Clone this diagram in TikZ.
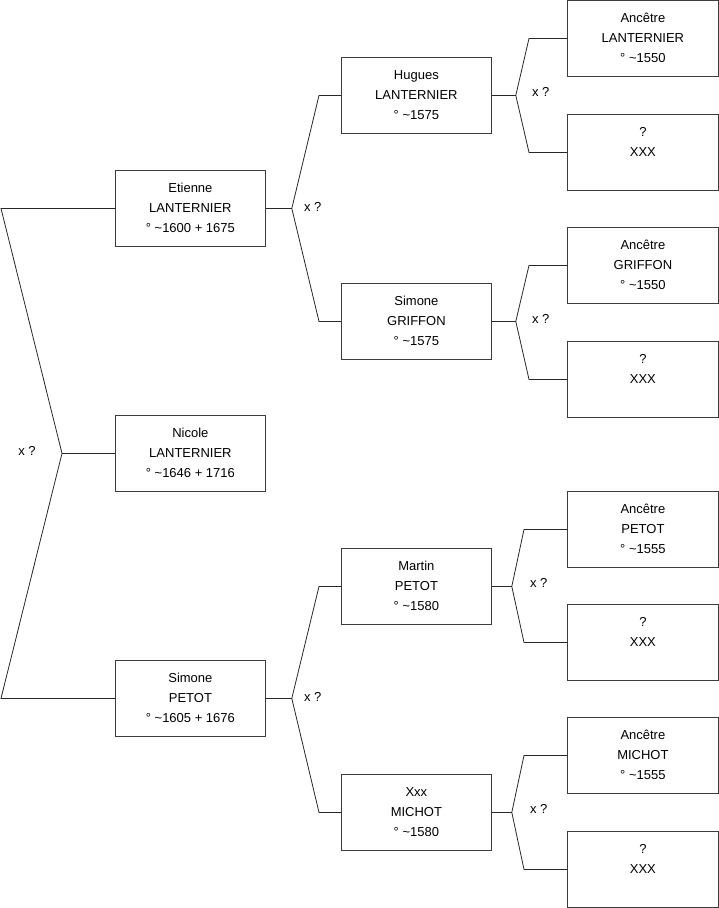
\documentclass[tikz,border=0pt]{standalone}
\usepackage{fontspec}
\setmainfont{Liberation Sans}
\usepackage{tikz}
\usetikzlibrary{positioning}
\usepackage{xcolor}
\definecolor{boxgray}{RGB}{60,60,60}
\definecolor{linegray}{RGB}{40,40,40}
\newcommand{\pers}[2][150pt]{\parbox[c][76pt][t]{#1}{\centering\rule{0pt}{22.5pt}#2}}
\tikzset{
    fiche/.style={draw=boxgray, line width=0.8pt, inner sep=0pt,
                  minimum width=#1, minimum height=76, anchor=north west,
                  font=\fontsize{13}{19.7}\selectfont},
    fiche/.default=150,
    lien/.style={draw=linegray, line width=0.8pt},
    xlbl/.style={font=\fontsize{13}{15}\selectfont, inner sep=0pt},
}
\begin{document}
\begin{tikzpicture}[x=1pt, y=-1pt]
    \useasboundingbox (0,0) rectangle (719,908);
    % generation 2
    \node[fiche] (etienne) at (115,170) {\pers{Etienne\\LANTERNIER\\° \textasciitilde1600 + 1675}};
    \node[fiche] (nicole) at (115,415) {\pers{Nicole\\LANTERNIER\\° \textasciitilde1646 + 1716}};
    \node[fiche] (simonep) at (115,660) {\pers{Simone\\PETOT\\° \textasciitilde1605 + 1676}};
    % generation 3
    \node[fiche] (hugues) at (341,57) {\pers{Hugues\\LANTERNIER\\° \textasciitilde1575}};
    \node[fiche] (simoneg) at (341,283) {\pers{Simone\\GRIFFON\\° \textasciitilde1575}};
    \node[fiche] (martin) at (341,548) {\pers{Martin\\PETOT\\° \textasciitilde1580}};
    \node[fiche] (xxx) at (341,774) {\pers{Xxx\\MICHOT\\° \textasciitilde1580}};
    % generation 4
    \node[fiche=151] (a1) at (567,0) {\pers[151pt]{Ancêtre\\LANTERNIER\\° \textasciitilde1550}};
    \node[fiche=151] (a2) at (567,114) {\pers[151pt]{?\\XXX}};
    \node[fiche=151] (a3) at (567,227) {\pers[151pt]{Ancêtre\\GRIFFON\\° \textasciitilde1550}};
    \node[fiche=151] (a4) at (567,341) {\pers[151pt]{?\\XXX}};
    \node[fiche=151] (a5) at (567,491) {\pers[151pt]{Ancêtre\\PETOT\\° \textasciitilde1555}};
    \node[fiche=151] (a6) at (567,604) {\pers[151pt]{?\\XXX}};
    \node[fiche=151] (a7) at (567,717) {\pers[151pt]{Ancêtre\\MICHOT\\° \textasciitilde1555}};
    \node[fiche=151] (a8) at (567,831) {\pers[151pt]{?\\XXX}};

    % couple of Nicole
    \draw[lien] (nicole.west) -- ++(-53,0) coordinate (m0);
    \draw[lien] (m0) -- ([xshift=-114pt]etienne.west) -- (etienne.west);
    \draw[lien] (m0) -- ([xshift=-114pt]simonep.west) -- (simonep.west);
    \node[xlbl] (x0) at ([xshift=-35pt,yshift=2pt]m0) {x ?};

    % couples of generation 3
    \draw[lien] (etienne.east) -- ++(26,0) coordinate (m1);
    \draw[lien] (m1) -- ([xshift=-22pt]hugues.west) -- (hugues.west);
    \draw[lien] (m1) -- ([xshift=-22pt]simoneg.west) -- (simoneg.west);
    \node[xlbl] (x1) at ([xshift=21pt,yshift=1pt]m1) {x ?};

    \draw[lien] (simonep.east) -- ++(26,0) coordinate (m2);
    \draw[lien] (m2) -- ([xshift=-22pt]martin.west) -- (martin.west);
    \draw[lien] (m2) -- ([xshift=-22pt]xxx.west) -- (xxx.west);
    \node[xlbl] (x2) at ([xshift=21pt,yshift=1pt]m2) {x ?};

    % couples of generation 4
    \draw[lien] (hugues.east) -- ++(24,0) coordinate (m3);
    \draw[lien] (m3) -- ([xshift=-38pt]a1.west) -- (a1.west);
    \draw[lien] (m3) -- ([xshift=-38pt]a2.west) -- (a2.west);
    \node[xlbl] (x3) at ([xshift=25pt,yshift=3pt]m3) {x ?};

    \draw[lien] (simoneg.east) -- ++(24,0) coordinate (m4);
    \draw[lien] (m4) -- ([xshift=-38pt]a3.west) -- (a3.west);
    \draw[lien] (m4) -- ([xshift=-38pt]a4.west) -- (a4.west);
    \node[xlbl] (x4) at ([xshift=25pt,yshift=2pt]m4) {x ?};

    \draw[lien] (martin.east) -- ++(20,0) coordinate (m5);
    \draw[lien] (m5) -- ([xshift=-43pt]a5.west) -- (a5.west);
    \draw[lien] (m5) -- ([xshift=-43pt]a6.west) -- (a6.west);
    \node[xlbl] (x5) at ([xshift=27pt,yshift=3pt]m5) {x ?};

    \draw[lien] (xxx.east) -- ++(20,0) coordinate (m6);
    \draw[lien] (m6) -- ([xshift=-43pt]a7.west) -- (a7.west);
    \draw[lien] (m6) -- ([xshift=-43pt]a8.west) -- (a8.west);
    \node[xlbl] (x6) at ([xshift=27pt,yshift=3pt]m6) {x ?};
\end{tikzpicture}
\end{document}
